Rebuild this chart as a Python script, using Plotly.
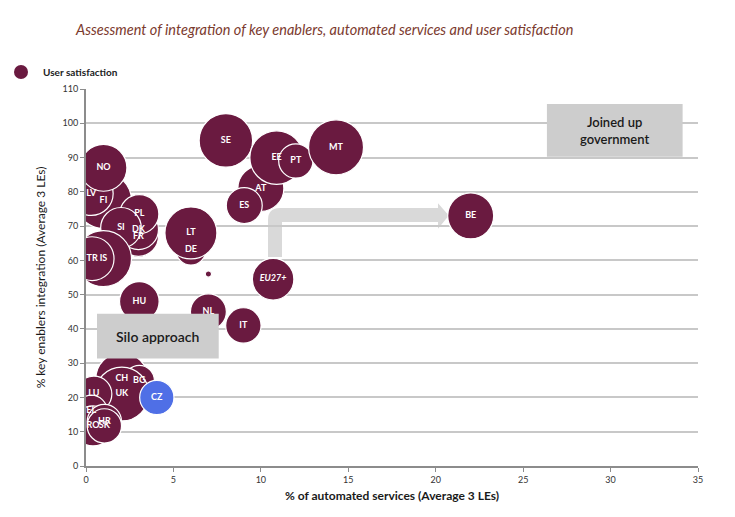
import plotly.graph_objects as go

# ---- data ----
countries = ["SE", "AT", "EE", "PT", "MT", "ES", "DE", "LT", "", "<i>EU27+</i>", "NL", "IT", "HU", "BE",
             "FI", "LV", "NO", "FR", "DK", "PL", "SI", "IS", "TR",
             "CH", "BG", "UK", "CZ", "LU", "EL", "RO", "HR", "SK"]
automated = [8.0, 10.0, 10.9, 12.0, 14.3, 9.05, 6.0, 6.0, 7.0, 10.7, 7.0, 9.0, 3.05, 22.0,
             1.0, 0.3, 1.0, 3.0, 3.0, 3.05, 2.0, 1.0, 0.35,
             2.05, 3.05, 2.05, 4.05, 0.45, 0.3, 0.4, 1.05, 1.05]
key_enablers = [95, 81, 90, 89, 93, 76, 63, 68, 56, 54.5, 45, 41, 48, 73,
                77.5, 79.5, 87, 67, 69, 73.5, 69.5, 60.5, 60.5,
                25.5, 25, 21, 20, 21, 16, 11.7, 13, 11.7]
satisfaction = [73, 54, 73, 30, 77, 33, 23, 69, 1, 44, 33, 32, 40, 54,
                80, 49, 56, 41, 41, 39, 42, 80, 49,
                69, 23, 74, 30, 33, 26, 41, 30, 30]
x_ticks = [0, 5, 10, 15, 20, 25, 30, 35]
y_ticks = [0, 10, 20, 30, 40, 50, 60, 70, 80, 90, 100, 110]

MAROON = "#6A1A40"
BLUE = "#4F6FE6"
colors = [BLUE if c == "CZ" else MAROON for c in countries]

FONT = "Lato"
W, H = 735, 517
OX, OY = 7, 8          # page offset of the figure
L, T = 85 - OX, 89 - OY
PW, PH = 612, 377
R, B = W - L - PW, H - T - PH


def px_x(p):
    return (p - OX - L) / PW


def px_y(p):
    return (T + PH - (p - OY)) / PH


fig = go.Figure()
fig.add_trace(go.Scatter(
    x=automated, y=key_enablers, mode="markers+text", text=countries,
    textposition="middle center",
    textfont=dict(family=FONT, size=9, color="white", weight="bold"),
    marker=dict(size=satisfaction, sizemode="area", sizeref=80 / (2 * 28 ** 2),
                color=colors, opacity=1, line=dict(color="white", width=1.2)),
    showlegend=False, hoverinfo="skip", cliponaxis=True,
))

# arrow (decoration)
arrow = ("M 10.41,61.0 L 10.41,71.8 Q 10.41,75.3 11.09,75.3 L 20.13,75.3 L 20.13,76.7 "
         "L 20.75,73.1 L 20.13,69.2 L 20.13,71.2 L 11.21,71.2 L 11.21,61.0 Z")
fig.add_shape(type="path", path=arrow, xref="x", yref="y", fillcolor="#D9D9D9",
              line=dict(width=0), layer="below")

# boxes
fig.add_shape(type="rect", xref="x", yref="y", x0=0.63, x1=7.59, y0=31.4, y1=44.4,
              fillcolor="#CDCDCD", line=dict(width=0), layer="above")
fig.add_shape(type="rect", xref="x", yref="y", x0=26.36, x1=34.12, y0=90.25, y1=105.6,
              fillcolor="#CDCDCD", line=dict(width=0), layer="above")
fig.add_annotation(x=(0.63 + 7.59) / 2, y=(31.4 + 44.4) / 2, xref="x", yref="y",
                   text="Silo approach", showarrow=False,
                   font=dict(family=FONT, size=14, color="#1a1a1a", weight=600))
fig.add_annotation(x=(26.36 + 34.12) / 2, y=(90.25 + 105.6) / 2, xref="x", yref="y",
                   text="Joined up<br>government", showarrow=False,
                   font=dict(family=FONT, size=13, color="#1a1a1a", weight=600))

# legend (manual)
fig.add_shape(type="circle", xref="paper", yref="paper",
              x0=px_x(13), x1=px_x(27), y0=px_y(79), y1=px_y(65),
              fillcolor=MAROON, line=dict(width=0))
fig.add_annotation(x=px_x(40), y=px_y(72), xref="paper", yref="paper",
                   xanchor="left", yanchor="middle", showarrow=False,
                   text="User satisfaction",
                   font=dict(family=FONT, size=10, color="#222222", weight="bold"))

# title
fig.add_annotation(
    x=px_x(72), y=px_y(29), xref="paper", yref="paper",
    xanchor="left", yanchor="middle", showarrow=False,
    text="<i>Assessment of integration of key enablers, automated services and user satisfaction</i>",
    font=dict(family=FONT, size=14.5, color="#7B3A2E"),
)

fig.update_layout(
    width=W, height=H,
    margin=dict(l=L, r=R, t=T, b=B, autoexpand=False),
    paper_bgcolor="white", plot_bgcolor="white",
    font=dict(family=FONT, color="#333333"),
    showlegend=False,
    xaxis=dict(range=[0, 35], tickvals=x_ticks, showgrid=False, zeroline=False,
               showline=True, linecolor="#8C8C8C", linewidth=2, automargin=False,
               ticks="outside", ticklen=4, tickcolor="#8C8C8C", tickwidth=1,
               tickfont=dict(family=FONT, size=9, color="#333333"),
               title=dict(text="<b>% of automated services (Average 3 LEs)</b>",
                          font=dict(family=FONT, size=12, color="#1a1a1a"), standoff=8)),
    yaxis=dict(range=[0, 110], tickvals=y_ticks, showgrid=True, gridcolor="#C8C8C8",
               gridwidth=1.5, zeroline=False, automargin=False,
               showline=True, linecolor="#8C8C8C", linewidth=2,
               ticks="outside", ticklen=4, tickcolor="#8C8C8C", tickwidth=1,
               tickfont=dict(family=FONT, size=9, color="#333333"),
               title=dict(text="% key enablers integration (Average 3 LEs)",
                          font=dict(family=FONT, size=12, color="#1a1a1a"), standoff=14)),
)

fig.write_html("out.html")
